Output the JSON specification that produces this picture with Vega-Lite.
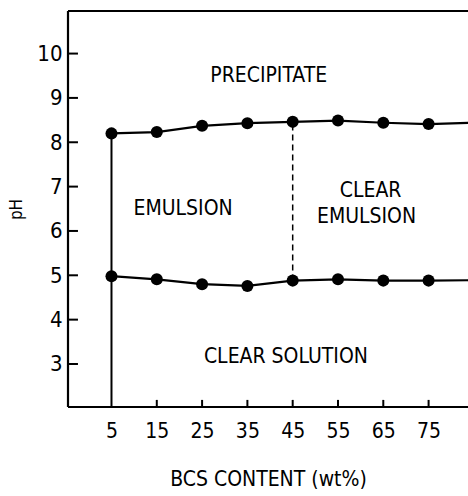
{
  "$schema": "https://vega.github.io/schema/vega-lite/v6.json",
  "width": 400,
  "height": 396,
  "autosize": {"type": "none"},
  "padding": {"left": 68, "top": 11, "right": 0, "bottom": 89},
  "background": "white",
  "config": {
    "view": {"stroke": null},
    "font": "DejaVu Sans Condensed",
    "axis": {
      "labelFont": "DejaVu Sans Condensed",
      "titleFont": "DejaVu Sans Condensed",
      "labelColor": "black",
      "titleColor": "black",
      "titleFontWeight": "normal",
      "domain": false,
      "ticks": false,
      "grid": false
    }
  },
  "datasets": {
    "boundaries": [
      {"bcs": 5, "upper": 8.20, "lower": 4.98},
      {"bcs": 15, "upper": 8.23, "lower": 4.91},
      {"bcs": 25, "upper": 8.37, "lower": 4.80},
      {"bcs": 35, "upper": 8.43, "lower": 4.76},
      {"bcs": 45, "upper": 8.46, "lower": 4.88},
      {"bcs": 55, "upper": 8.49, "lower": 4.91},
      {"bcs": 65, "upper": 8.44, "lower": 4.88},
      {"bcs": 75, "upper": 8.41, "lower": 4.88},
      {"bcs": 85, "upper": 8.44, "lower": 4.89}
    ],
    "regions": [
      {"bcs": 39.7, "ph": 9.49, "label": "PRECIPITATE"},
      {"bcs": 20.8, "ph": 6.50, "label": "EMULSION"},
      {"bcs": 62.2, "ph": 6.91, "label": "CLEAR"},
      {"bcs": 61.3, "ph": 6.31, "label": "EMULSION"},
      {"bcs": 43.5, "ph": 3.16, "label": "CLEAR SOLUTION"}
    ],
    "ph_ticks": [
      {"ph": 3}, {"ph": 4}, {"ph": 5}, {"ph": 6},
      {"ph": 7}, {"ph": 8}, {"ph": 9}, {"ph": 10}
    ],
    "bcs_ticks": [
      {"bcs": 15}, {"bcs": 25}, {"bcs": 35}, {"bcs": 45},
      {"bcs": 55}, {"bcs": 65}, {"bcs": 75}
    ]
  },
  "layer": [
    {
      "data": {"name": "boundaries"},
      "transform": [{"filter": "datum.bcs == 5"}],
      "mark": {"type": "rule", "color": "black", "strokeWidth": 2},
      "encoding": {
        "x": {
          "field": "bcs",
          "type": "quantitative",
          "scale": {"domain": [-4.6, 83.7], "nice": false, "zero": false},
          "axis": {
            "values": [5, 15, 25, 35, 45, 55, 65, 75],
            "labelFontSize": 21,
            "labelPadding": 13,
            "title": "BCS CONTENT (wt%)",
            "titleFontSize": 21,
            "titlePadding": 27
          }
        },
        "y": {
          "field": "upper",
          "type": "quantitative",
          "scale": {"domain": [2.03, 10.96], "nice": false, "zero": false},
          "axis": {
            "values": [3, 4, 5, 6, 7, 8, 9, 10],
            "labelFontSize": 22,
            "labelPadding": 6,
            "title": "pH",
            "titleFontSize": 17,
            "titlePadding": 11
          }
        },
        "y2": {"datum": 2.03}
      }
    },
    {
      "data": {"name": "ph_ticks"},
      "mark": {"type": "rule", "color": "black", "strokeWidth": 2},
      "encoding": {
        "y": {"field": "ph", "type": "quantitative"},
        "x": {"datum": -4.6},
        "x2": {"datum": -2.4}
      }
    },
    {
      "data": {"name": "bcs_ticks"},
      "mark": {"type": "rule", "color": "black", "strokeWidth": 2},
      "encoding": {
        "x": {"field": "bcs", "type": "quantitative"},
        "y": {"datum": 2.03},
        "y2": {"datum": 2.19}
      }
    },
    {
      "data": {"name": "boundaries"},
      "transform": [{"filter": "datum.bcs == 45"}],
      "mark": {"type": "rule", "color": "black", "strokeWidth": 1.5, "strokeDash": [6, 4]},
      "encoding": {
        "x": {"field": "bcs", "type": "quantitative"},
        "y": {"field": "lower", "type": "quantitative"},
        "y2": {"field": "upper"}
      }
    },
    {
      "data": {"name": "boundaries"},
      "mark": {"type": "line", "color": "black", "strokeWidth": 2.2, "clip": true},
      "encoding": {
        "x": {"field": "bcs", "type": "quantitative"},
        "y": {"field": "upper", "type": "quantitative"}
      }
    },
    {
      "data": {"name": "boundaries"},
      "mark": {"type": "line", "color": "black", "strokeWidth": 2.2, "clip": true},
      "encoding": {
        "x": {"field": "bcs", "type": "quantitative"},
        "y": {"field": "lower", "type": "quantitative"}
      }
    },
    {
      "data": {"name": "boundaries"},
      "mark": {"type": "circle", "color": "black", "opacity": 1, "size": 145, "clip": true},
      "encoding": {
        "x": {"field": "bcs", "type": "quantitative"},
        "y": {"field": "upper", "type": "quantitative"}
      }
    },
    {
      "data": {"name": "boundaries"},
      "mark": {"type": "circle", "color": "black", "opacity": 1, "size": 145, "clip": true},
      "encoding": {
        "x": {"field": "bcs", "type": "quantitative"},
        "y": {"field": "lower", "type": "quantitative"}
      }
    },
    {
      "data": {"values": [{}]},
      "mark": {"type": "rule", "color": "black", "strokeWidth": 2},
      "encoding": {"y": {"datum": 10.96}}
    },
    {
      "data": {"values": [{}]},
      "mark": {"type": "rule", "color": "black", "strokeWidth": 2.2},
      "encoding": {"y": {"datum": 2.03}}
    },
    {
      "data": {"values": [{}]},
      "mark": {"type": "rule", "color": "black", "strokeWidth": 2.2},
      "encoding": {"x": {"datum": -4.6}}
    },
    {
      "data": {"name": "regions"},
      "mark": {"type": "text", "color": "black", "fontSize": 21, "font": "DejaVu Sans Condensed", "baseline": "middle", "align": "center"},
      "encoding": {
        "x": {"field": "bcs", "type": "quantitative"},
        "y": {"field": "ph", "type": "quantitative"},
        "text": {"field": "label"}
      }
    }
  ]
}
